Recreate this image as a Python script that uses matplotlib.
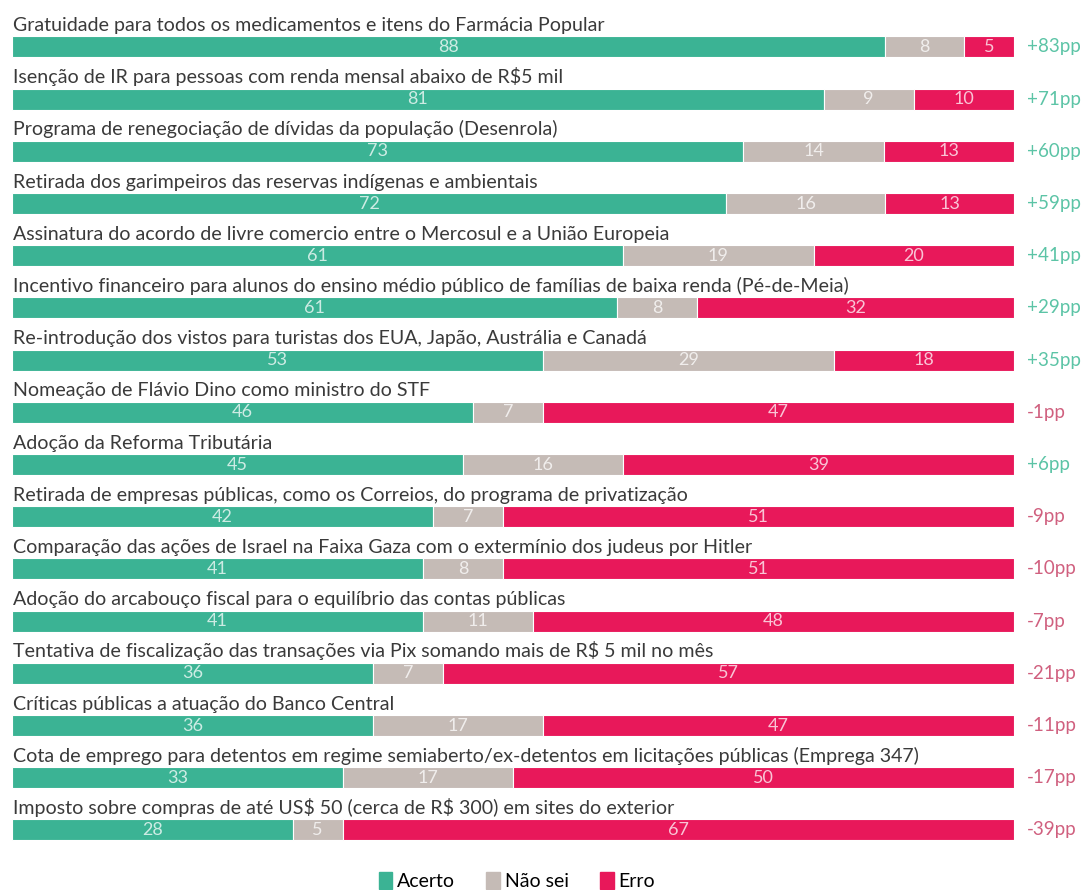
import matplotlib.pyplot as plt
import numpy as np

plt.rcParams['font.family'] = ['Lato', 'DejaVu Sans']

# Percepção das medidas do governo: acerto / não sei / erro (%)
medidas = [
    'Gratuidade para todos os medicamentos e itens do Farmácia Popular',
    'Isenção de IR para pessoas com renda mensal abaixo de R\\$5 mil',
    'Programa de renegociação de dívidas da população (Desenrola)',
    'Retirada dos garimpeiros das reservas indígenas e ambientais',
    'Assinatura do acordo de livre comercio entre o Mercosul e a União Europeia',
    'Incentivo financeiro para alunos do ensino médio público de famílias de baixa renda (Pé-de-Meia)',
    'Re-introdução dos vistos para turistas dos EUA, Japão, Austrália e Canadá',
    'Nomeação de Flávio Dino como ministro do STF',
    'Adoção da Reforma Tributária',
    'Retirada de empresas públicas, como os Correios, do programa de privatização',
    'Comparação das ações de Israel na Faixa Gaza com o extermínio dos judeus por Hitler',
    'Adoção do arcabouço fiscal para o equilíbrio das contas públicas',
    'Tentativa de fiscalização das transações via Pix somando mais de R\\$ 5 mil no mês',
    'Críticas públicas a atuação do Banco Central',
    'Cota de emprego para detentos em regime semiaberto/ex-detentos em licitações públicas (Emprega 347)',
    'Imposto sobre compras de até US\\$ 50 (cerca de R\\$ 300) em sites do exterior',
]
acerto = [88, 81, 73, 72, 61, 61, 53, 46, 45, 42, 41, 41, 36, 36, 33, 28]
nao_sei = [8, 9, 14, 16, 19, 8, 29, 7, 16, 7, 8, 11, 7, 17, 17, 5]
erro = [5, 10, 13, 13, 20, 32, 18, 47, 39, 51, 51, 48, 57, 47, 50, 67]

verde = '#3bb394'
cinza = '#c5bbb6'
vermelho = '#e8185a'
verde_txt = '#5cc4a6'
vermelho_txt = '#d0607f'

W, H = 1087, 890
fig = plt.figure(figsize=(W / 100, H / 100), dpi=100)
row = 52.2
y0 = 47
ax = fig.add_axes([12 / W, 0, 1002 / W, 1])
ax.set_xlim(0, 100)
ax.set_ylim((H - y0) / row, -y0 / row)
ax.axis('off')

a = np.array(acerto, dtype=float)
n = np.array(nao_sei, dtype=float)
e = np.array(erro, dtype=float)
tot = a + n + e
pa, pn, pe = a / tot * 100, n / tot * 100, e / tot * 100
y = np.arange(len(medidas))
h = 21 / row

ax.barh(y, pa, height=h, color=verde, edgecolor='white', linewidth=0.8)
ax.barh(y, pn, left=pa, height=h, color=cinza, edgecolor='white', linewidth=0.8)
ax.barh(y, pe, left=pa + pn, height=h, color=vermelho, edgecolor='white', linewidth=0.8)

for i in range(len(medidas)):
    ax.text(0.05, i - 16 / row, medidas[i], ha='left', va='baseline',
            fontsize=14.1, color='#3a3a3a')
    ax.text(pa[i] / 2, i, str(acerto[i]), ha='center', va='center',
            fontsize=13, color='white', alpha=0.75)
    ax.text(pa[i] + pn[i] / 2, i, str(nao_sei[i]), ha='center', va='center',
            fontsize=13, color='white', alpha=0.75)
    ax.text(pa[i] + pn[i] + pe[i] / 2, i, str(erro[i]), ha='center', va='center',
            fontsize=13, color='white', alpha=0.75)
    d = acerto[i] - erro[i]
    lbl = ('+%dpp' % d) if d > 0 else ('%dpp' % d)
    ax.text(101.3, i, lbl, ha='left', va='center', fontsize=13.5,
            color=verde_txt if d > 0 else vermelho_txt, clip_on=False)

# legenda
itens = [('Acerto', verde), ('Não sei', cinza), ('Erro', vermelho)]
handles = [plt.Rectangle((0, 0), 1, 1, color=c) for _, c in itens]
fig.legend(handles, [t for t, _ in itens], loc='center', ncol=3,
           bbox_to_anchor=(517 / W, 1 - 881 / H), frameon=False,
           fontsize=14, handlelength=0.7, handleheight=1.0,
           handletextpad=0.25, columnspacing=1.6, borderpad=0)

fig.savefig('out.png', dpi=100)
